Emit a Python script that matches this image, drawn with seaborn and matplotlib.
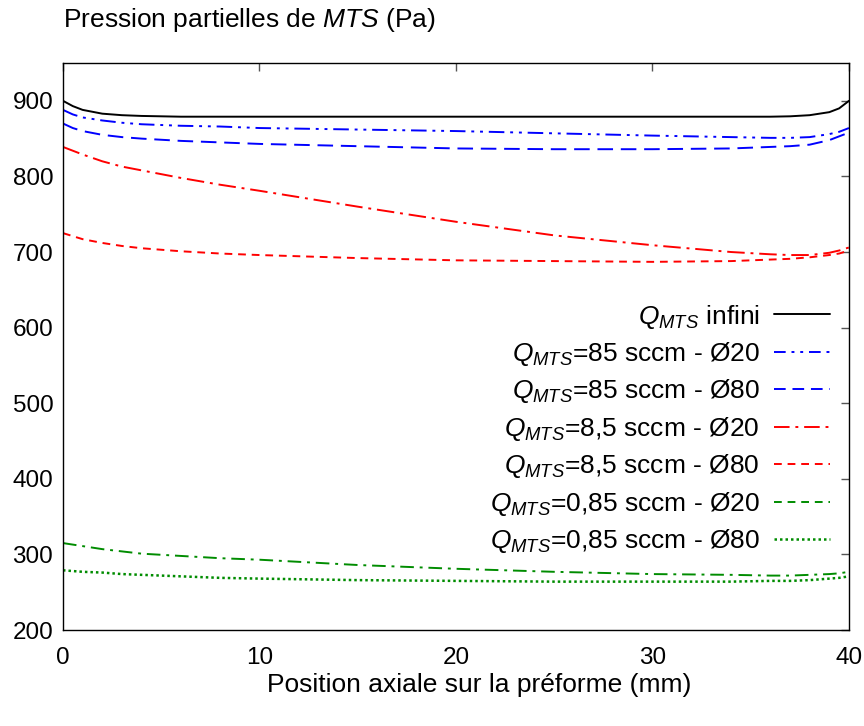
import matplotlib
matplotlib.use("Agg")
import matplotlib.pyplot as plt
from matplotlib.lines import Line2D
import seaborn as sns
import pandas as pd

sns.set_theme(style="white")
plt.rcParams["font.family"] = ["Liberation Sans", "DejaVu Sans"]
plt.rcParams["mathtext.fontset"] = "custom"
plt.rcParams["mathtext.rm"] = "Liberation Sans"
plt.rcParams["mathtext.it"] = "Liberation Sans:italic"
plt.rcParams["text.color"] = "black"
plt.rcParams["axes.labelcolor"] = "black"

# Axial position along the preform (mm)
position = [0, 0.5, 1, 2, 3, 4, 6, 8, 10, 15, 20, 25, 30, 34, 36, 37, 38, 39, 39.5, 40]

# MTS partial pressure (Pa) for each feed condition
p_infini = [900, 893, 888, 883, 881, 880, 879, 879, 879, 879, 879, 879, 879, 879, 879, 879.5, 881, 885, 890, 900]
p_85_d20 = [888, 882, 878, 874, 871, 869, 867, 866, 864, 862, 860, 857, 854, 852, 851, 851, 852, 856, 859, 864]
p_85_d80 = [870, 864, 860, 855, 852, 850, 847, 845, 843, 840, 837, 836, 836, 837, 839, 840, 842, 848, 853, 858]
p_8_5_d20 = [839, 834, 829, 820, 813, 808, 798, 789, 781, 760, 740, 722, 709, 700, 697, 696, 696, 699, 702, 706]
p_8_5_d80 = [725, 721, 717, 712, 708, 705, 701, 698, 696, 692, 689, 688, 687, 688, 690, 691, 693, 696, 698, 702]
p_0_85_d20 = [315, 313, 311, 307, 304, 301, 298, 295, 293, 286, 281, 277, 274, 273, 272, 272, 273, 274, 275, 277]
p_0_85_d80 = [279, 278, 277, 276, 274, 273, 271, 269, 268, 266, 265, 264, 264, 264, 265, 265, 266, 268, 269, 271]

labels = [
    r"$Q_{MTS}$ infini",
    r"$Q_{MTS}$=85 sccm - Ø20",
    r"$Q_{MTS}$=85 sccm - Ø80",
    r"$Q_{MTS}$=8,5 sccm - Ø20",
    r"$Q_{MTS}$=8,5 sccm - Ø80",
    r"$Q_{MTS}$=0,85 sccm - Ø20",
    r"$Q_{MTS}$=0,85 sccm - Ø80",
]
series = [p_infini, p_85_d20, p_85_d80, p_8_5_d20, p_8_5_d80, p_0_85_d20, p_0_85_d80]

colors = ["black", "#0000ff", "#0000ff", "#ff0000", "#ff0000", "#008c00", "#008c00"]
curve_dashes = [
    (None, None),
    (0, (8, 3, 1.5, 3, 1.5, 3)),
    (0, (8, 4)),
    (0, (9, 3, 1.5, 3)),
    (0, (4, 3)),
    (0, (7, 3, 1.5, 3)),
    (0, (1, 1.2)),
]
legend_dashes = [
    (None, None),
    (0, (6, 3, 1.5, 3, 1.5, 3)),
    (0, (6, 3.5)),
    (0, (8, 3, 1.5, 3)),
    (0, (4, 3)),
    (0, (4, 3)),
    (0, (1, 1.2)),
]
widths = [1.4, 1.4, 1.4, 1.4, 1.4, 1.4, 1.8]

fig = plt.figure(figsize=(8.64, 7.26), dpi=100)
ax = fig.add_axes([0.0729, 0.1322, 0.9097, 0.7810])

handles = []
for lab, vals, col, ds, lds, lw in zip(labels, series, colors, curve_dashes, legend_dashes, widths):
    df = pd.DataFrame({"x": position, "p": vals})
    sns.lineplot(data=df, x="x", y="p", ax=ax, color=col, linewidth=lw,
                 linestyle="-" if ds[1] is None else ds, legend=False)
    handles.append(Line2D([], [], color=col, linewidth=lw,
                          linestyle="-" if lds[1] is None else lds))

ax.set_xlim(0, 40)
ax.set_ylim(200, 950)
ax.set_xticks([0, 10, 20, 30, 40])
ax.set_yticks([200, 300, 400, 500, 600, 700, 800, 900])
ax.tick_params(direction="in", length=6, width=1, color="#555555",
               top=True, right=True, labelsize=17.5, labelcolor="black")
ax.tick_params(axis="x", pad=12)
ax.tick_params(axis="y", pad=7)
for s in ax.spines.values():
    s.set_color("black")
    s.set_linewidth(1.0)

ax.set_xlabel("Position axiale sur la préforme (mm)", fontsize=19)
ax.xaxis.set_label_coords(0.529, -0.097, transform=ax.transAxes)
ax.xaxis.label.set_va("center")
ax.set_ylabel("")
fig.text(0.0729, 0.972, r"Pression partielles de $\mathit{MTS}$ (Pa)", fontsize=19,
         ha="left", va="center")

leg = ax.legend(handles, labels, loc="upper right", bbox_to_anchor=(0.989, 0.596),
                frameon=False, markerfirst=False, fontsize=19, handlelength=2.1,
                labelspacing=0.357, handletextpad=0.55, borderaxespad=0)
for t in leg.get_texts():
    t.set_ha("right")
leg._legend_box.align = "right"

fig.savefig("out.png", dpi=100)
